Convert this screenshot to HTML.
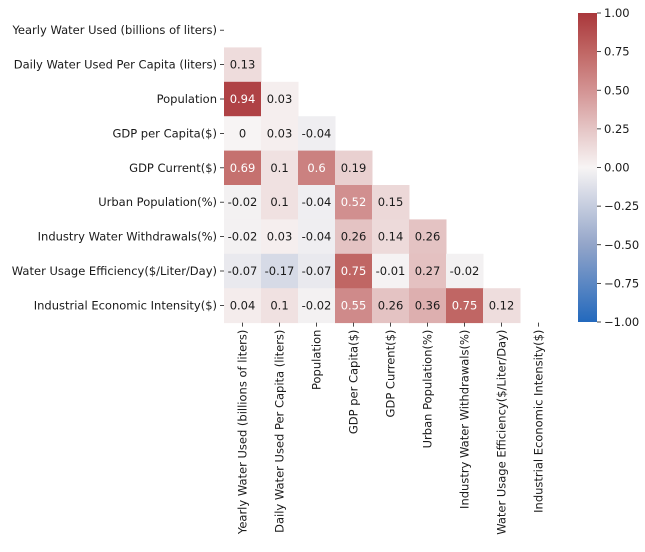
<!DOCTYPE html>
<html><head><meta charset="utf-8"><style>
body{margin:0;background:#fff;width:645px;height:547px;overflow:hidden}
text{font-family:"DejaVu Sans","Liberation Sans",sans-serif;font-size:11.5px;fill:#1a1a1a}
</style></head><body>
<svg id="chart" width="645" height="547" xmlns="http://www.w3.org/2000/svg">
<defs><linearGradient id="cbg" x1="0" y1="1" x2="0" y2="0">
<stop offset="0" stop-color="#2369bd"/><stop offset="0.25" stop-color="#93a5c9"/><stop offset="0.5" stop-color="#f7f4f4"/><stop offset="0.625" stop-color="#e5c5c5"/><stop offset="0.75" stop-color="#d39393"/><stop offset="0.875" stop-color="#c06664"/><stop offset="1" stop-color="#a9373b"/></linearGradient></defs>
<g id="cells"></g><g id="labels"></g><g id="cbar"></g>
</svg>
<script>
const categories=["Yearly Water Used (billions of liters)","Daily Water Used Per Capita (liters)","Population","GDP per Capita($)","GDP Current($)","Urban Population(%)","Industry Water Withdrawals(%)","Water Usage Efficiency($/Liter/Day)","Industrial Economic Intensity($)"];
const row2=[0.13];
const row3=[0.94,0.03];
const row4=[0,0.03,-0.04];
const row5=[0.69,0.1,0.6,0.19];
const row6=[-0.02,0.1,-0.04,0.52,0.15];
const row7=[-0.02,0.03,-0.04,0.26,0.14,0.26];
const row8=[-0.07,-0.17,-0.07,0.75,-0.01,0.27,-0.02];
const row9=[0.04,0.1,-0.02,0.55,0.26,0.36,0.75,0.12];
const rows=[[],row2,row3,row4,row5,row6,row7,row8,row9];
const cbTicks=[1,0.75,0.5,0.25,0,-0.25,-0.5,-0.75,-1];
const L=224,T=13,CW=37,RH=34.4,CBX=578,CBW=19,CBT=13,CBB=322;
const NS="http://www.w3.org/2000/svg";
const stops=[[-1,[35,105,189]],[-0.5,[150,168,203]],[0,[247,244,244]],[0.25,[229,197,197]],[0.5,[211,147,147]],[0.75,[192,102,100]],[1,[169,55,59]]];
function color(v){for(let i=0;i<stops.length-1;i++){const a=stops[i],b=stops[i+1];if(v<=b[0]){const t=(v-a[0])/(b[0]-a[0]);return "rgb("+a[1].map((c,k)=>Math.round(c+(b[1][k]-c)*t)).join(",")+")";}}return "rgb(169,55,59)";}
const x=i=>L+i*CW, y=j=>T+j*RH, cy=v=>CBB-(v+1)/2*(CBB-CBT);
function mk(tag,attrs,parent,txt){const e=document.createElementNS(NS,tag);for(const k in attrs)e.setAttribute(k,attrs[k]);if(txt!==undefined)e.textContent=txt;document.getElementById(parent).appendChild(e);return e;}
rows.forEach((r,j)=>r.forEach((v,i)=>{
 const c=mk("rect",{x:x(i),y:y(j),width:CW+0.5,height:RH+0.5,fill:color(v)},"cells");
 
 
 const t=mk("text",{x:x(i)+CW/2,y:y(j)+RH/2+4,"text-anchor":"middle",style:"fill:"+(Math.abs(v)>0.45?"#fff":"#1a1a1a")},"cells",String(v));
 
 
}));
categories.forEach((c,j)=>{
 const yy=y(j)+RH/2;
 mk("line",{x1:L-4,x2:L,y1:yy,y2:yy,stroke:"#1a1a1a","stroke-width":0.8},"labels");
 const t=mk("text",{x:L-7,y:yy+4,"text-anchor":"end"},"labels",c);
 
 
 const xx=x(j)+CW/2,yb=y(9);
 mk("line",{x1:xx,x2:xx,y1:yb,y2:yb+4,stroke:"#1a1a1a","stroke-width":0.8},"labels");
 const u=mk("text",{x:0,y:0,"text-anchor":"end",transform:"translate("+(xx+4)+","+(yb+7)+") rotate(-90)"},"labels",c);
 
 
});
const cb=mk("rect",{x:CBX,y:CBT,width:CBW,height:CBB-CBT,fill:"url(#cbg)"},"cbar");


cbTicks.forEach(v=>{
 const yy=cy(v);
 mk("line",{x1:CBX+CBW,x2:CBX+CBW+4,y1:yy,y2:yy,stroke:"#1a1a1a","stroke-width":0.8},"cbar");
 const t=mk("text",{x:CBX+CBW+7,y:yy+4},"cbar",(v<0?"\u2212":"")+Math.abs(v).toFixed(2));
 
 
});
</script>
</body></html>
